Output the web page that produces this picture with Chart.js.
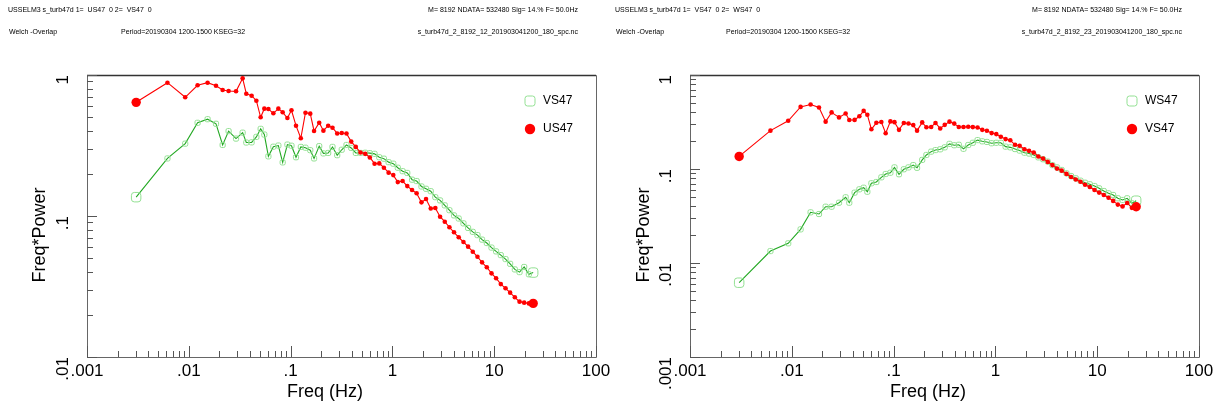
<!DOCTYPE html>
<html><head><meta charset="utf-8">
<script src="https://cdn.jsdelivr.net/npm/chart.js@4.4.0/dist/chart.umd.min.js"></script>
<style>
html,body{margin:0;padding:0;background:#fff;}
#wrap{position:relative;width:1221px;height:410px;overflow:hidden;background:#fff;}
.pane{position:absolute;top:0;height:410px;}
canvas{display:block;}
</style></head><body>
<div id="wrap">
  <div class="pane" style="left:0;width:610px"><canvas id="c1" width="610" height="410"></canvas></div>
  <div class="pane" style="left:610px;width:611px"><canvas id="c2" width="611" height="410"></canvas></div>
</div>
<script>
// ---------- data ----------
const freq = [0.00304,0.00617,0.00922,0.0122,0.0153,0.0185,0.0215,0.0246,0.0291,0.0338,0.0367,0.0414,0.0461,0.0508,0.0552,0.0605,0.0677,0.0758,0.0836,0.093,0.102,0.113,0.126,0.140,0.156,0.170,0.191,0.210,0.234,0.258,0.287,0.318,0.354,0.394,0.437,0.486,0.541,0.600,0.668,0.743,0.825,0.918,1.02,1.13,1.26,1.40,1.56,1.73,1.93,2.14,2.38,2.64,2.94,3.27,3.63,4.03,4.48,4.99,5.54,6.16,6.85,7.60,8.46,9.41,10.44,11.61,12.92,14.34,15.95,17.74,19.70,21.91,24.15];

const us47 = [0.640,0.882,0.695,0.845,0.882,0.840,0.783,0.770,0.766,0.947,0.737,0.713,0.657,0.501,0.577,0.574,0.535,0.577,0.544,0.495,0.562,0.437,0.356,0.540,0.532,0.401,0.459,0.403,0.437,0.423,0.385,0.388,0.385,0.337,0.309,0.282,0.276,0.260,0.235,0.236,0.220,0.203,0.195,0.174,0.177,0.163,0.153,0.145,0.125,0.132,0.113,0.114,0.0989,0.0911,0.0832,0.0766,0.0706,0.0654,0.0606,0.0558,0.0514,0.0469,0.0433,0.0392,0.0362,0.0329,0.0307,0.0286,0.0265,0.0247,0.0243,0.0240,0.0240];

const vs47 = [0.136,0.256,0.326,0.458,0.486,0.451,0.319,0.400,0.354,0.390,0.332,0.333,0.364,0.415,0.378,0.265,0.310,0.316,0.240,0.321,0.315,0.261,0.309,0.305,0.293,0.256,0.313,0.278,0.280,0.309,0.270,0.295,0.319,0.304,0.280,0.280,0.281,0.279,0.276,0.261,0.255,0.241,0.235,0.220,0.208,0.202,0.181,0.177,0.162,0.156,0.150,0.136,0.129,0.119,0.110,0.101,0.096,0.0887,0.0823,0.0772,0.0732,0.068,0.0643,0.0597,0.0561,0.0528,0.0495,0.0458,0.0418,0.040,0.0435,0.0386,0.0397];

const ws47 = [0.00617,0.0134,0.0162,0.0228,0.0346,0.0332,0.0397,0.0397,0.0438,0.0500,0.0438,0.0560,0.0608,0.0632,0.0573,0.0705,0.0727,0.0816,0.0885,0.0913,0.104,0.0879,0.0993,0.104,0.110,0.103,0.125,0.141,0.153,0.159,0.162,0.170,0.185,0.179,0.181,0.164,0.180,0.190,0.203,0.197,0.194,0.188,0.190,0.190,0.173,0.170,0.163,0.157,0.149,0.146,0.141,0.133,0.127,0.120,0.110,0.104,0.0976,0.0900,0.0842,0.0796,0.0751,0.0715,0.0688,0.0659,0.0623,0.0583,0.0551,0.0529,0.0488,0.0468,0.0488,0.0432,0.0460];

const xTickValues = [0.001,0.01,0.1,1,10,100];
const xTickLabels = ['.001','.01','.1','1','10','100'];
const yTickValuesLeft = [0.01,0.1,1];
const yTickLabelsLeft = ['.01','.1','1'];
const yTickValuesRight = [0.001,0.01,0.1,1];
const yTickLabelsRight = ['.001','.01','.1','1'];

const headerLeft = ['USSELM3 s_turb47d 1=  US47  0 2=  VS47  0','M= 8192 NDATA= 532480 Sig= 14.% F= 50.0Hz','Welch -Overlap','Period=20190304 1200-1500 KSEG=32','s_turb47d_2_8192_12_201903041200_180_spc.nc'];
const headerRight = ['USSELM3 s_turb47d 1=  VS47  0 2=  WS47  0','M= 8192 NDATA= 532480 Sig= 14.% F= 50.0Hz','Welch -Overlap','Period=20190304 1200-1500 KSEG=32','s_turb47d_2_8192_23_201903041200_180_spc.nc'];

// ---------- styling ----------
const FONT = '"Liberation Sans", Arial, Helvetica, sans-serif';
const RED = '#ff0000';
const GREEN_LINE = '#22a822';
const GREEN_MARK = '#93e093';

const framePlugin = {
  id: 'frame',
  beforeDatasetsDraw(chart, args, o) {
    const ctx = chart.ctx, a = chart.chartArea, xs = chart.scales.x, ys = chart.scales.y;
    ctx.save();
    ctx.strokeStyle = '#666';
    ctx.lineWidth = 1;
    ctx.beginPath();
    ctx.rect(Math.round(a.left)+0.5, Math.round(a.top)+0.5, Math.round(a.right-a.left), Math.round(a.bottom-a.top));
    ctx.stroke();
    ctx.strokeStyle = '#333';
    ctx.lineWidth = 1.6;
    ctx.beginPath();
    ctx.moveTo(a.left, Math.round(a.top)+0.5); ctx.lineTo(a.right, Math.round(a.top)+0.5);
    ctx.stroke();
    ctx.strokeStyle = '#555';
    ctx.lineWidth = 1;
    const xmin = Math.log10(xs.min), xmax = Math.log10(xs.max);
    for (let e = xmin; e <= xmax; e++) {
      for (let m = 1; m < 10; m++) {
        const v = m * Math.pow(10, e);
        if (v > xs.max * 1.0001) break;
        const px = Math.round(xs.getPixelForValue(v)) + 0.5;
        const len = m === 1 ? 11 : 6;
        ctx.beginPath(); ctx.moveTo(px, a.bottom); ctx.lineTo(px, a.bottom - len); ctx.stroke();
      }
    }
    const ymin = Math.log10(ys.min), ymax = Math.log10(ys.max);
    for (let e = ymin; e <= ymax; e++) {
      for (let m = 1; m < 10; m++) {
        const v = m * Math.pow(10, e);
        if (v > ys.max * 1.0001) break;
        const py = Math.round(ys.getPixelForValue(v)) + 0.5;
        const len = m === 1 ? 10 : 6;
        ctx.beginPath(); ctx.moveTo(a.left, py); ctx.lineTo(a.left + len, py); ctx.stroke();
      }
    }
    ctx.restore();
  },
  afterDraw(chart, args, o) {
    const ctx = chart.ctx, a = chart.chartArea, xs = chart.scales.x, ys = chart.scales.y;
    ctx.save();
    ctx.fillStyle = '#000';
    ctx.font = '7px ' + FONT;
    ctx.textBaseline = 'middle';
    ctx.textAlign = 'left';
    ctx.fillText(o.header[0], o.hx0, 10);
    ctx.fillText(o.header[2], o.hx0 + 1, 32);
    ctx.fillText(o.header[3], o.hxPeriod, 32);
    ctx.textAlign = 'right';
    ctx.fillText(o.header[1], o.hxRight, 10);
    ctx.fillText(o.header[4], o.hxRight, 32);
    ctx.font = '17px ' + FONT;
    ctx.textAlign = 'center';
    ctx.textBaseline = 'middle';
    o.xTickValues.forEach((v, i) => {
      ctx.fillText(o.xTickLabels[i], xs.getPixelForValue(v), a.bottom + 14);
    });
    o.yTickValues.forEach((v, i) => {
      ctx.save();
      ctx.translate(o.yLabelX, ys.getPixelForValue(v));
      ctx.rotate(-Math.PI / 2);
      ctx.textAlign = 'right';
      ctx.textBaseline = 'middle';
      ctx.fillText(o.yTickLabels[i], 0, 0);
      ctx.restore();
    });
    ctx.font = '18px ' + FONT;
    ctx.textAlign = 'center';
    ctx.fillText('Freq (Hz)', o.xTitleX, 392);
    ctx.save();
    ctx.translate(o.yTitleX, 235);
    ctx.rotate(-Math.PI / 2);
    ctx.fillText('Freq*Power', 0, 0);
    ctx.restore();
    const lx = o.legendX;
    ctx.lineWidth = 1;
    ctx.strokeStyle = GREEN_MARK;
    const s = 10, r = 2.5, sx = lx - s/2, sy = 101 - s/2;
    ctx.beginPath();
    ctx.moveTo(sx + r, sy); ctx.lineTo(sx + s - r, sy); ctx.quadraticCurveTo(sx + s, sy, sx + s, sy + r);
    ctx.lineTo(sx + s, sy + s - r); ctx.quadraticCurveTo(sx + s, sy + s, sx + s - r, sy + s);
    ctx.lineTo(sx + r, sy + s); ctx.quadraticCurveTo(sx, sy + s, sx, sy + s - r);
    ctx.lineTo(sx, sy + r); ctx.quadraticCurveTo(sx, sy, sx + r, sy);
    ctx.stroke();
    ctx.fillStyle = RED;
    ctx.beginPath(); ctx.arc(lx, 129, 5.2, 0, Math.PI * 2); ctx.fill();
    ctx.fillStyle = '#000';
    ctx.font = '12px ' + FONT;
    ctx.textAlign = 'left';
    ctx.textBaseline = 'middle';
    ctx.fillText(o.legend[0], lx + 13, 101);
    ctx.fillText(o.legend[1], lx + 13, 129);
    ctx.restore();
  }
};

function makePanel(id, green, red, names, yMin, pad, extra) {
  const n = freq.length;
  const endBig = (small, big) => (c) => (c.dataIndex === 0 || c.dataIndex === n - 1) ? big : small;
  return new Chart(document.getElementById(id), {
    type: 'scatter',
    data: {
      datasets: [
        {
          label: names[1],
          data: freq.map((f, i) => ({ x: f, y: red[i] })),
          showLine: true,
          borderColor: RED,
          borderWidth: 1.1,
          pointStyle: 'circle',
          pointRadius: endBig(2.3, 4.7),
          pointBackgroundColor: RED,
          pointBorderColor: RED,
          pointBorderWidth: 0,
          order: 1
        },
        {
          label: names[0],
          data: freq.map((f, i) => ({ x: f, y: green[i] })),
          showLine: true,
          borderColor: GREEN_LINE,
          borderWidth: 1.1,
          pointStyle: 'rectRounded',
          pointRadius: endBig(3.0, 5.5),
          pointBackgroundColor: 'rgba(0,0,0,0)',
          pointBorderColor: GREEN_MARK,
          pointBorderWidth: 1,
          order: 2
        }
      ]
    },
    options: {
      responsive: false,
      animation: false,
      devicePixelRatio: 1,
      layout: { padding: pad },
      scales: {
        x: { type: 'logarithmic', min: 0.001, max: 100, display: false },
        y: { type: 'logarithmic', min: yMin, max: 1, display: false }
      },
      plugins: {
        legend: { display: false },
        tooltip: { enabled: false },
        frame: Object.assign({
          xTickValues, xTickLabels, legend: names
        }, extra)
      }
    },
    plugins: [framePlugin]
  });
}

makePanel('c1', vs47, us47, ['VS47', 'US47'], 0.01,
  { left: 87, right: 14, top: 75, bottom: 53 },
  { yTickValues: yTickValuesLeft, yTickLabels: yTickLabelsLeft, yLabelX: 63, yTitleX: 40, xTitleX: 325,
    legendX: 530, header: headerLeft, hx0: 8, hxPeriod: 121, hxRight: 578 });

makePanel('c2', ws47, vs47, ['WS47', 'VS47'], 0.001,
  { left: 80, right: 22, top: 75, bottom: 53 },
  { yTickValues: yTickValuesRight, yTickLabels: yTickLabelsRight, yLabelX: 56, yTitleX: 34, xTitleX: 318,
    legendX: 522, header: headerRight, hx0: 5, hxPeriod: 116, hxRight: 572 });
</script>
</body></html>
